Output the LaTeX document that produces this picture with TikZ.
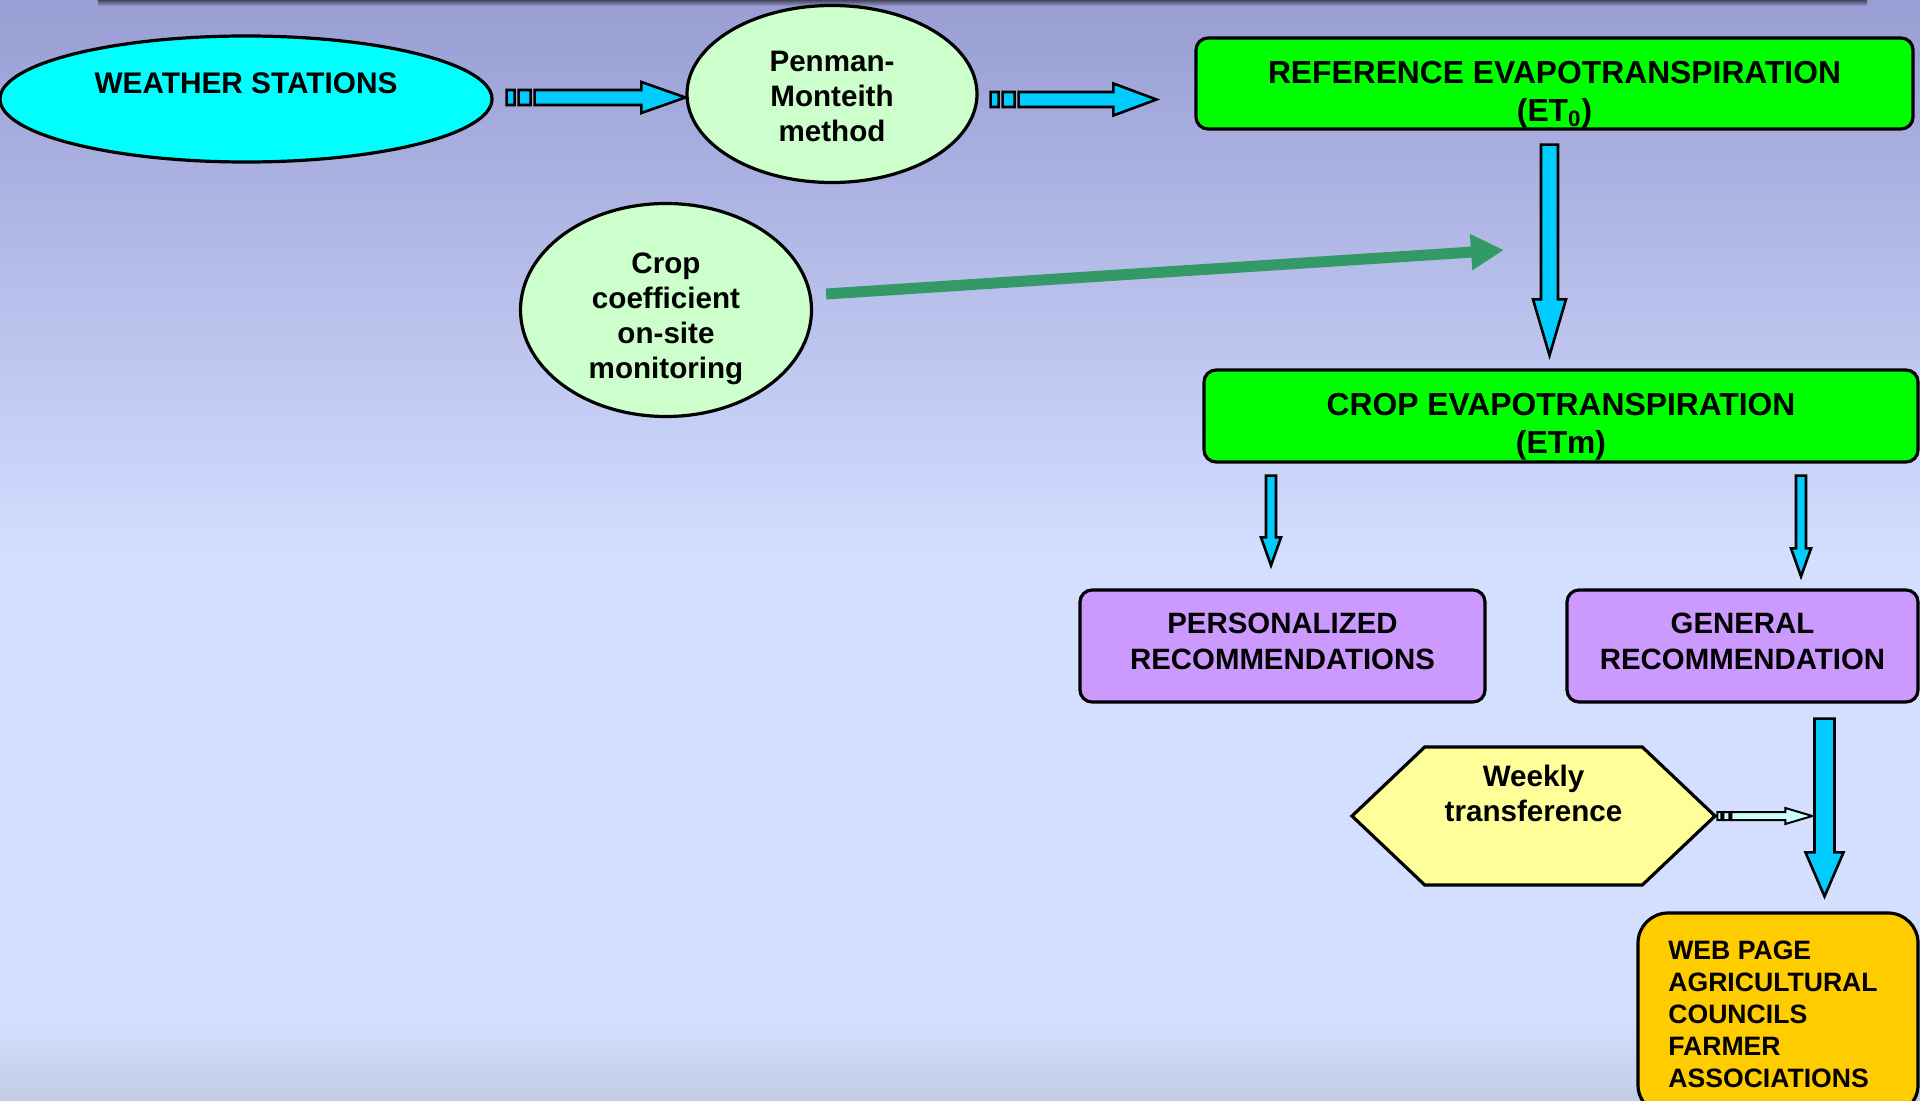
\documentclass[tikz,border=0pt]{standalone}
\usepackage{fontspec}
\setmainfont{Liberation Sans}
\usetikzlibrary{shapes}
\usetikzlibrary{arrows.meta}
\usetikzlibrary{calc}
\definecolor{bgtop}{RGB}{152,157,211}
\definecolor{bgmid}{RGB}{212,222,255}
\definecolor{bgbot}{RGB}{194,204,228}
\definecolor{skycyan}{RGB}{0,255,255}
\definecolor{mintgreen}{RGB}{204,255,204}
\definecolor{limegreen}{RGB}{0,255,0}
\definecolor{lilac}{RGB}{204,153,255}
\definecolor{paleyellow}{RGB}{255,255,153}
\definecolor{amber}{RGB}{255,204,0}
\definecolor{arrowcyan}{RGB}{0,204,255}
\definecolor{icecyan}{RGB}{204,255,255}
\definecolor{seagreen}{RGB}{51,153,102}
\pgfdeclareverticalshading{bgshade}{100bp}{color(0bp)=(bgbot); color(25bp)=(bgbot); color(28.7bp)=(bgmid); color(49.6bp)=(bgmid); color(75bp)=(bgtop); color(100bp)=(bgtop)}
\tikzset{
    ellw/.style = {ellipse, line width=1.6pt, draw=black, fill=skycyan, inner sep=0pt, font=\bfseries\fontsize{14.9}{17.5}\selectfont},
    elln/.style = {ellipse, line width=1.6pt, draw=black, fill=mintgreen, inner sep=0pt, font=\bfseries\fontsize{14.8}{17.5}\selectfont},
    boxg/.style = {rectangle, rounded corners=6pt, line width=1.6pt, draw=black, fill=limegreen, font=\bfseries\fontsize{15.9}{19}\selectfont},
    boxp/.style = {rectangle, rounded corners=6pt, line width=1.6pt, draw=black, fill=lilac, font=\bfseries\fontsize{14.7}{17.75}\selectfont},
    boxo/.style = {rectangle, rounded corners=15pt, line width=1.6pt, draw=black, fill=amber, font=\bfseries\fontsize{13.3}{16}\selectfont},
    hexy/.style = {signal, signal to=west and east, signal pointer angle=87, line width=1.6pt, draw=black, fill=paleyellow, inner sep=0pt, font=\bfseries\fontsize{14.8}{17.5}\selectfont},
    blockarrow/.style = {draw=black, line width=1.3pt, fill=arrowcyan, line join=miter},
    blockarrowl/.style = {blockarrow, line width=1pt, fill=icecyan},
    edgeg/.style = {-{Triangle[length=16.5pt,width=17pt]}, line width=5.5pt, seagreen}
}
% text lines, first baseline raised #2 above the node centre
\newcommand{\txtblock}[3][c]{\raisebox{#2}[0pt][0pt]{\begin{tabular}[t]{@{}#1@{}}#3\end{tabular}}}
% striped block arrow: start, tip, half shaft, half head, head length, stripe unit
\newcommand{\stripedarrow}[7][blockarrow]{%
  \draw[#1] let \p1=(#2), \p2=(#3) in
    (\x1,\y1-#4) rectangle (\x1+2*#7,\y1+#4)
    (\x1+3*#7,\y1-#4) rectangle (\x1+6*#7,\y1+#4)
    (\x1+7*#7,\y1-#4) -- (\x2-#6,\y1-#4) -- (\x2-#6,\y1-#5) -- (\x2,\y1)
    -- (\x2-#6,\y1+#5) -- (\x2-#6,\y1+#4) -- (\x1+7*#7,\y1+#4) -- cycle;
}
% downward block arrow: top, tip, half shaft, half head, head length
\newcommand{\dropblock}[5]{%
  \draw[blockarrow] let \p1=(#1), \p2=(#2) in
    (\x1-#3,\y1) -- (\x1-#3,\y2+#5) -- (\x1-#4,\y2+#5) -- (\x1,\y2)
    -- (\x1+#4,\y2+#5) -- (\x1+#3,\y2+#5) -- (\x1+#3,\y1) -- cycle;
}
\begin{document}
\begin{tikzpicture}[x=0.5pt, y=-0.5pt]
\useasboundingbox (0, 0) rectangle (1920, 1101);
\shade[shading=bgshade] (0, 0) rectangle (1920, 1101);
\shade[top color=black!55!bgtop, bottom color=bgtop] (98, 0) rectangle (1867, 6);
%
\node[ellw, minimum width=246pt, minimum height=63pt] at (246, 99) (ws) {\txtblock{2.65pt}{WEATHER STATIONS}};
\node[elln, minimum width=145pt, minimum height=88.5pt] at (832, 94) (pm) {\txtblock{11pt}{Penman-\\Monteith\\method}};
\node[elln, minimum width=145.5pt, minimum height=106.5pt] at (666, 310) (cc) {\txtblock{18.2pt}{Crop\\coefficient\\on-site\\monitoring}};
\node[boxg, minimum width=358.5pt, minimum height=45.5pt] at (1554.5, 83.5) (ref) {\txtblock{0pt}{REFERENCE EVAPOTRANSPIRATION\\(ET\textsubscript{0})}};
\node[boxg, minimum width=357pt, minimum height=46pt] at (1561, 416) (crop) {\txtblock{0.25pt}{CROP EVAPOTRANSPIRATION\\(ETm)}};
\node[boxp, minimum width=202.5pt, minimum height=56pt] at (1282.5, 646) (pers) {\txtblock{6.2pt}{PERSONALIZED\\RECOMMENDATIONS}};
\node[boxp, minimum width=175.5pt, minimum height=56pt] at (1742.5, 646) (gen) {\txtblock{6.2pt}{GENERAL\\RECOMMENDATION}};
\node[hexy, minimum width=181.5pt, minimum height=69pt] at (1533.5, 816) (hex) {\txtblock{14.6pt}{Weekly\\transference}};
\node[boxo, minimum width=140pt, minimum height=101pt] at (1778, 1014) (web) {\hspace*{-5pt}\txtblock[l]{27.35pt}{WEB PAGE\\AGRICULTURAL\\COUNCILS\\FARMER\\ASSOCIATIONS}};
%
\coordinate (ws1) at ([xshift=6.5pt,yshift=0.75pt]ws.east);
\coordinate (pm1) at ([xshift=6pt,yshift=-2.75pt]pm.east);
\coordinate (ref1) at ([xshift=-19pt]ref.west);
\coordinate (ref2) at ([xshift=-2.5pt,yshift=-7pt]ref.south);
\coordinate (crop1) at ([yshift=6.5pt]ref2 |- crop.north);
\coordinate (crop2) at ([xshift=-145pt,yshift=-6pt]crop.south);
\coordinate (crop3) at ([xshift=120pt,yshift=-6pt]crop.south);
\coordinate (pers1) at ([yshift=11.5pt]crop2 |- pers.north);
\coordinate (gen1) at ([yshift=6pt]crop3 |- gen.north);
\coordinate (gen2) at ([xshift=41pt,yshift=-7.5pt]gen.south);
\coordinate (web1) at ([yshift=7.5pt]gen2 |- web.north);
\coordinate (hex1) at ([xshift=47.5pt]hex.east);
\coordinate (cc1) at ([xshift=6.5pt,yshift=8pt]cc.east);
\coordinate (grn1) at (1504, 250);
%
\stripedarrow{ws1}{ws1 -| pm.west}{3.75pt}{7.75pt}{22pt}{2pt}
\stripedarrow{pm1}{pm1 -| ref1}{3.75pt}{8pt}{21.5pt}{2pt}
\stripedarrow[blockarrowl]{hex.east}{hex1}{2pt}{4pt}{13.5pt}{1pt}
\dropblock{ref2}{crop1}{4.25pt}{8.25pt}{28pt}
\dropblock{crop2}{pers1}{2.5pt}{5pt}{14pt}
\dropblock{crop3}{gen1}{2.5pt}{5pt}{14pt}
\dropblock{gen2}{web1}{5pt}{9.5pt}{22pt}
\draw[edgeg] (cc1) -- (grn1);

\end{tikzpicture}
\end{document}
